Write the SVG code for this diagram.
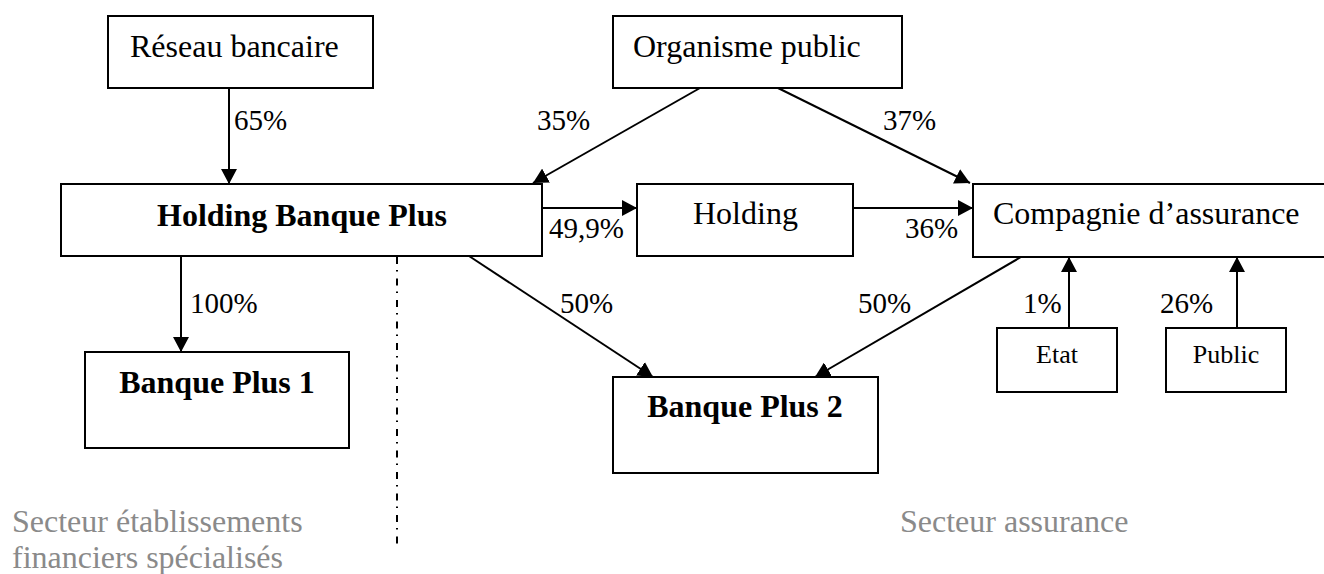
<svg xmlns="http://www.w3.org/2000/svg" width="1324" height="574" viewBox="0 0 1324 574">
<style>
.box{fill:#fff;stroke:#000;stroke-width:2}
.t{font-family:"Liberation Serif","Times New Roman",serif;font-size:32px;fill:#000}
.b{font-weight:bold}
.s{font-size:26px}
.p{font-family:"Liberation Serif","Times New Roman",serif;font-size:29px;fill:#000}
.g{font-family:"Liberation Serif","Times New Roman",serif;font-size:32px;fill:#8a8a8a}
.c{stroke:#000;stroke-width:2;fill:none;marker-end:url(#ah)}
</style>
<defs>
<marker id="ah" markerUnits="userSpaceOnUse" markerWidth="16" markerHeight="16" viewBox="-15 -8 16 16" refX="0" refY="0" orient="auto">
<path d="M-15,-8 L0,0 L-15,8 Z" fill="#000"/>
</marker>
</defs>
<rect width="1324" height="574" fill="#fff"/>
<g id="n-reseau"><rect class="box" x="108" y="16" width="265" height="72"/><text class="t" x="130" y="57">Réseau bancaire</text></g>
<g id="n-organisme"><rect class="box" x="613" y="16" width="289" height="72"/><text class="t" x="633" y="57">Organisme public</text></g>
<g id="n-hbp"><rect class="box" x="61" y="184" width="481" height="72"/><text class="t b" x="157" y="226">Holding Banque Plus</text></g>
<g id="n-holding"><rect class="box" x="637" y="184" width="216" height="72"/><text class="t" x="693" y="224">Holding</text></g>
<g id="n-compagnie"><rect class="box" x="973" y="184" width="360" height="73"/><text class="t" x="993" y="224">Compagnie d’assurance</text></g>
<g id="n-etat"><rect class="box" x="997" y="328" width="120" height="64"/><text class="t s" x="1057" y="363" text-anchor="middle">Etat</text></g>
<g id="n-public"><rect class="box" x="1166" y="328" width="120" height="64"/><text class="t s" x="1226" y="363" text-anchor="middle">Public</text></g>
<g id="n-bp1"><rect class="box" x="85" y="352" width="264" height="96"/><text class="t b" x="217" y="393" text-anchor="middle">Banque Plus 1</text></g>
<g id="n-bp2"><rect class="box" x="613" y="377" width="265" height="96"/><text class="t b" x="745" y="417" text-anchor="middle">Banque Plus 2</text></g>
<g id="connectors">
<line class="c" x1="229" y1="88" x2="229" y2="184"/>
<line class="c" x1="700" y1="88" x2="533" y2="183"/>
<line class="c" x1="778" y1="88" x2="970" y2="183"/>
<line class="c" x1="542" y1="208" x2="637" y2="208"/>
<line class="c" x1="853" y1="208" x2="973" y2="208"/>
<line class="c" x1="181" y1="256" x2="181" y2="352"/>
<line class="c" x1="469" y1="256" x2="653" y2="377"/>
<line class="c" x1="1021" y1="257" x2="815" y2="377"/>
<line class="c" x1="1069" y1="328" x2="1069" y2="257"/>
<line class="c" x1="1237" y1="328" x2="1237" y2="257"/>
<line x1="397" y1="257" x2="397" y2="546" stroke="#000" stroke-width="2" stroke-dasharray="7,6,1.5,7"/>
</g>
<g id="labels">
<text class="p" x="234" y="130">65%</text>
<text class="p" x="537" y="130">35%</text>
<text class="p" x="883" y="130">37%</text>
<text class="p" x="549" y="238">49,9%</text>
<text class="p" x="905" y="238">36%</text>
<text class="p" x="190" y="313">100%</text>
<text class="p" x="560" y="313">50%</text>
<text class="p" x="858" y="313">50%</text>
<text class="p" x="1023" y="313">1%</text>
<text class="p" x="1160" y="313">26%</text>
<text class="g" x="12" y="532">Secteur établissements</text>
<text class="g" x="12" y="568">financiers spécialisés</text>
<text class="g" x="900" y="532">Secteur assurance</text>
</g>
</svg>
